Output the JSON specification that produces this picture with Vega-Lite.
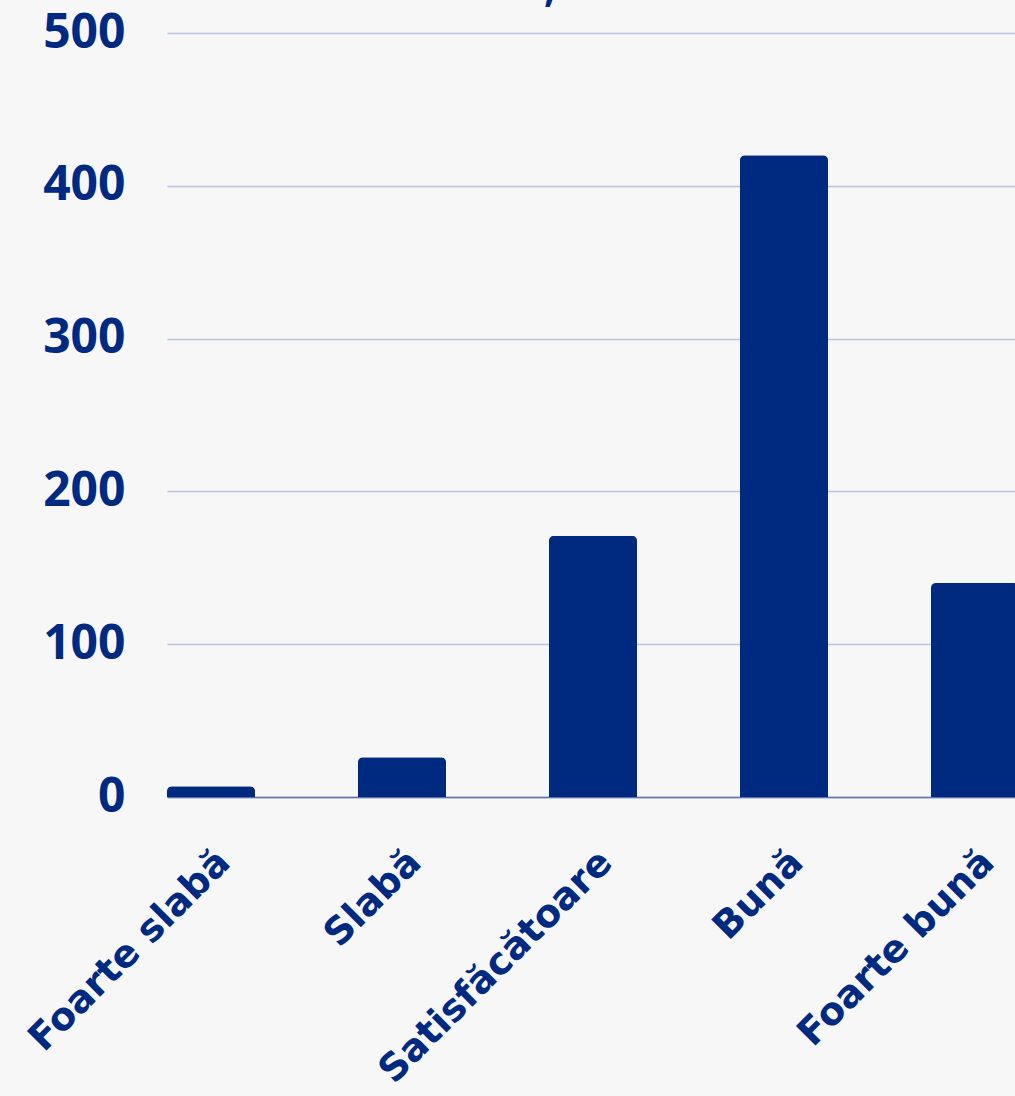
{
  "$schema": "https://vega.github.io/schema/vega-lite/v6.json",
  "width": 848,
  "height": 764,
  "autosize": {"type": "none"},
  "padding": {"left": 167, "top": 33, "right": 0, "bottom": 299},
  "background": "#f7f7f8",
  "title": {"text": ",", "anchor": "start", "frame": "group", "dx": 377, "offset": -33, "fontSize": 40, "color": "#002a80", "font": "Open Sans", "fontWeight": "bold", "baseline": "alphabetic"},
  "data": {
    "values": [
      {"rating": "Foarte slabă", "count": 7},
      {"rating": "Slabă", "count": 26},
      {"rating": "Satisfăcătoare", "count": 171},
      {"rating": "Bună", "count": 420},
      {"rating": "Foarte bună", "count": 140}
    ]
  },
  "mark": {"type": "bar", "color": "#002a80", "cornerRadiusTopLeft": 5, "cornerRadiusTopRight": 5},
  "encoding": {
    "x": {
      "field": "rating",
      "type": "nominal",
      "sort": null,
      "scale": {"range": [0, 852], "paddingInner": 0.539, "paddingOuter": 0},
      "axis": {
        "title": null,
        "labelAngle": -45,
        "labelAlign": "right",
        "labelBaseline": "top",
        "labelPadding": 46,
        "labelDx": 5,
        "labelFont": "DejaVu Sans",
        "labelFontWeight": "bold",
        "labelFontSize": 38,
        "labelColor": "#002a80",
        "ticks": false,
        "domain": true,
        "domainColor": "#5b6fae",
        "domainWidth": 1.5,
        "grid": false,
        "labelOverlap": false,
        "labelLimit": 0
      }
    },
    "y": {
      "field": "count",
      "type": "quantitative",
      "scale": {"domain": [0, 500]},
      "axis": {
        "title": null,
        "values": [0, 100, 200, 300, 400, 500],
        "labelFont": "Open Sans",
        "labelFontWeight": "bold",
        "labelFontSize": 48,
        "labelColor": "#002a80",
        "labelPadding": 42,
        "ticks": false,
        "domain": false,
        "gridColor": "#b9c3de",
        "gridWidth": 1.5
      }
    }
  },
  "config": {"view": {"stroke": null}}
}
